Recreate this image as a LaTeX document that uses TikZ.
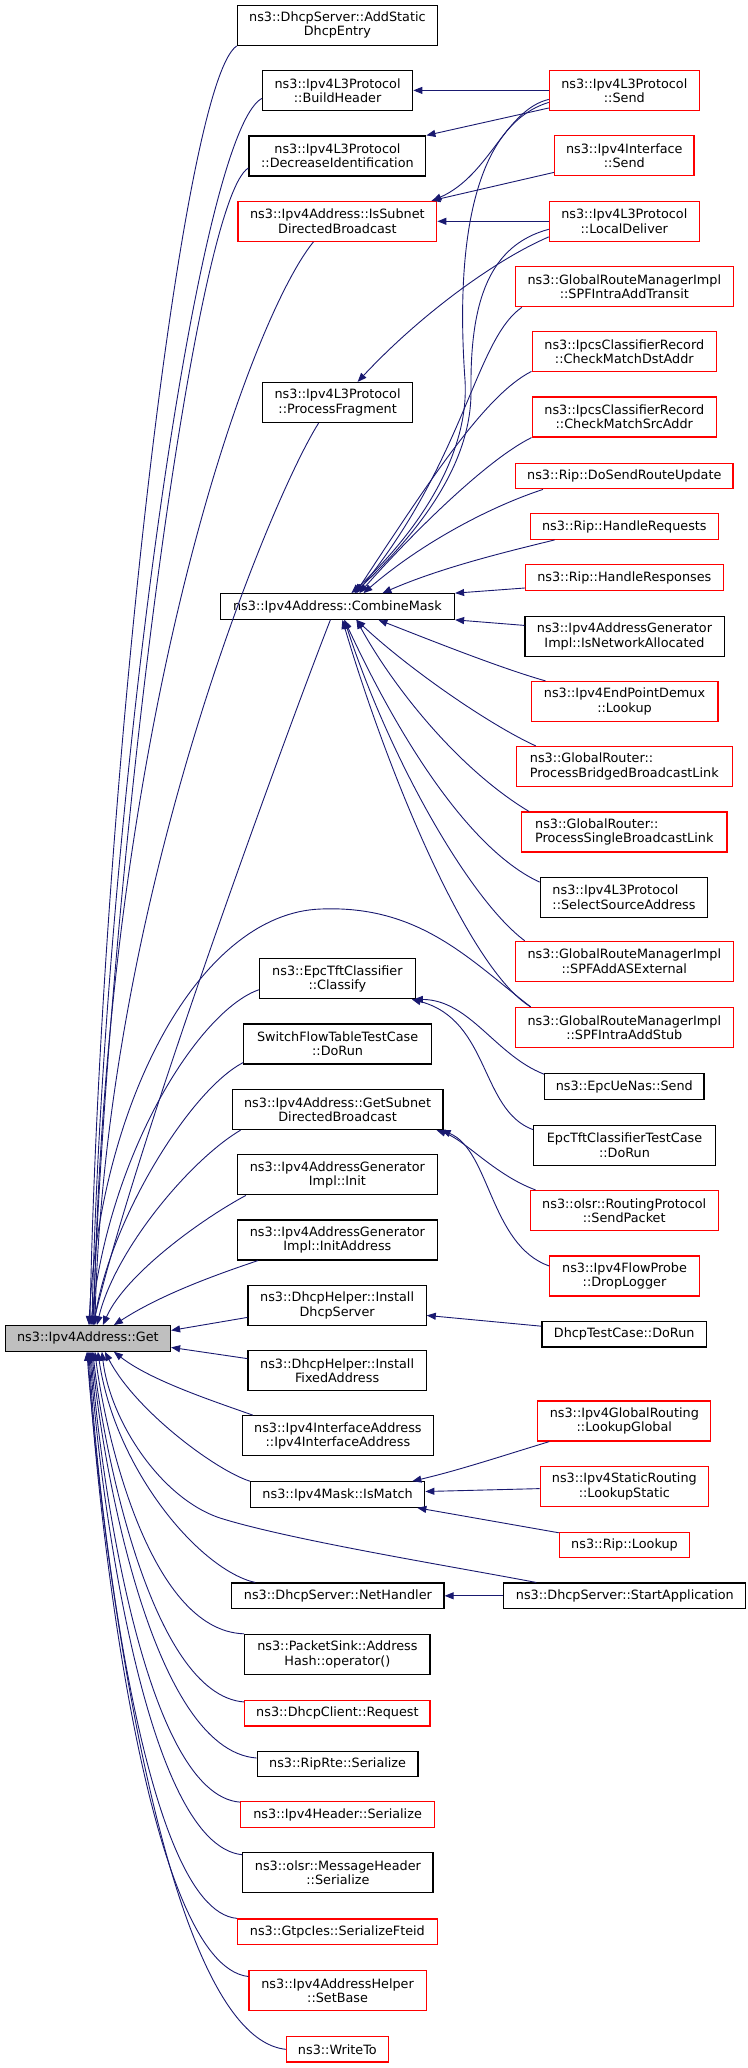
\documentclass[tikz,border=0pt]{standalone}
\usepackage{fontspec}
\setmainfont{DejaVu Sans}
\usetikzlibrary{arrows.meta,calc}
\definecolor{edgeblue}{RGB}{25,25,112}
\definecolor{getgray}{RGB}{191,191,191}
\begin{document}
\begin{tikzpicture}[x=1pt,y=-1pt,
  box/.style={draw=black, line width=1.2pt, inner xsep=2pt, inner ysep=0pt,
    font=\fontsize{12.8}{14.3}\selectfont, align=center, text=black},
  redbox/.style={box, draw=red},
  one/.style={minimum height=25.5pt},
  two/.style={minimum height=40pt},
  e/.style={draw=edgeblue, line width=0.9pt, -{Triangle[length=9pt,width=7pt]}},
]
\useasboundingbox (0,0) rectangle (747,2068);

% ---- middle column
\node[box,two,minimum width=200pt] (addstatic) at (337.4,25.3) {ns3::DhcpServer::AddStatic\\DhcpEntry};
\node[box,two,minimum width=150.3pt] (buildheader) at (337.6,90.4) {ns3::Ipv4L3Protocol\\::BuildHeader};
\node[box,two,minimum width=176.8pt] (decrease) at (337.4,156) {ns3::Ipv4L3Protocol\\::DecreaseIdentification};
\node[redbox,two,minimum width=198.8pt] (issubnet) at (337.4,221.3) {ns3::Ipv4Address::IsSubnet\\DirectedBroadcast};
\node[box,two,minimum width=150.3pt] (procfrag) at (337.6,402.5) {ns3::Ipv4L3Protocol\\::ProcessFragment};
\node[box,one,minimum width=234.2pt] (combine) at (337.4,606.5) {ns3::Ipv4Address::CombineMask};
\node[box,two,minimum width=155.6pt] (classify) at (337.4,978.7) {ns3::EpcTftClassifier\\::Classify};
\node[box,two,minimum width=187.7pt] (switchflow) at (337.6,1044) {SwitchFlowTableTestCase\\::DoRun};
\node[box,two,minimum width=210.7pt] (getsubnet) at (337.6,1109.5) {ns3::Ipv4Address::GetSubnet\\DirectedBroadcast};
\node[box,two,minimum width=199.8pt] (geninit) at (337.4,1174.8) {ns3::Ipv4AddressGenerator\\Impl::Init};
\node[box,two,minimum width=199.8pt] (geninitaddr) at (337.4,1240) {ns3::Ipv4AddressGenerator\\Impl::InitAddress};
\node[box,two,minimum width=178.2pt] (installserver) at (337.1,1305.4) {ns3::DhcpHelper::Install\\DhcpServer};
\node[box,two,minimum width=178.2pt] (installfixed) at (337.1,1370.6) {ns3::DhcpHelper::Install\\FixedAddress};
\node[box,two,minimum width=191.1pt] (ifaddr) at (337.9,1435.7) {ns3::Ipv4InterfaceAddress\\::Ipv4InterfaceAddress};
\node[box,one,minimum width=174.3pt] (ismatch) at (337.6,1494.5) {ns3::Ipv4Mask::IsMatch};
\node[box,one,minimum width=212.2pt] (nethandler) at (337.9,1595.8) {ns3::DhcpServer::NetHandler};
\node[box,two,minimum width=185.3pt] (packetsink) at (337.4,1654.4) {ns3::PacketSink::Address\\Hash::operator()};
\node[redbox,one,minimum width=185.3pt] (dhcpreq) at (337.4,1713.3) {ns3::DhcpClient::Request};
\node[box,one,minimum width=160.9pt] (riprte) at (337.6,1764) {ns3::RipRte::Serialize};
\node[redbox,one,minimum width=193.5pt] (ipv4hdr) at (337.6,1814.5) {ns3::Ipv4Header::Serialize};
\node[box,two,minimum width=190.1pt] (olsrmsg) at (337.9,1872.7) {ns3::olsr::MessageHeader\\::Serialize};
\node[redbox,one,minimum width=199.7pt] (gtpc) at (337.4,1931.7) {ns3::GtpcIes::SerializeFteid};
\node[redbox,two,minimum width=177.2pt] (setbase) at (337.6,1990.5) {ns3::Ipv4AddressHelper\\::SetBase};
\node[redbox,one,minimum width=102pt] (writeto) at (337.4,2049.3) {ns3::WriteTo};

% ---- root
\node[box,one,minimum width=165.2pt,fill=getgray] (get) at (87.9,1338.4) {ns3::Ipv4Address::Get};

% ---- right column
\node[redbox,two,minimum width=149.9pt] (send) at (624.3,90.4) {ns3::Ipv4L3Protocol\\::Send};
\node[redbox,two,minimum width=139.4pt] (ifsend) at (624.3,155.8) {ns3::Ipv4Interface\\::Send};
\node[redbox,two,minimum width=149.9pt] (localdeliver) at (624.3,221.3) {ns3::Ipv4L3Protocol\\::LocalDeliver};
\node[redbox,two,minimum width=217.9pt] (transit) at (624.3,286.8) {ns3::GlobalRouteManagerImpl\\::SPFIntraAddTransit};
\node[redbox,two,minimum width=184.4pt] (dstaddr) at (624.3,351.8) {ns3::IpcsClassifierRecord\\::CheckMatchDstAddr};
\node[redbox,two,minimum width=184.4pt] (srcaddr) at (624.3,417) {ns3::IpcsClassifierRecord\\::CheckMatchSrcAddr};
\node[redbox,one,minimum width=217.5pt] (dosend) at (624.3,476.1) {ns3::Rip::DoSendRouteUpdate};
\node[redbox,one,minimum width=188.2pt] (handlereq) at (624.3,526.6) {ns3::Rip::HandleRequests};
\node[redbox,one,minimum width=197.8pt] (handleresp) at (624.3,577.5) {ns3::Rip::HandleResponses};
\node[box,two,minimum width=199.2pt] (isnetalloc) at (624.5,636.4) {ns3::Ipv4AddressGenerator\\Impl::IsNetworkAllocated};
\node[redbox,two,minimum width=186.8pt] (epdemux) at (624.5,701.5) {ns3::Ipv4EndPointDemux\\::Lookup};
\node[redbox,two,minimum width=216pt,align=left] (bridged) at (624.3,766.5) {ns3::GlobalRouter::\\ProcessBridgedBroadcastLink};
\node[redbox,two,minimum width=205.5pt,align=left] (single) at (624.3,832) {ns3::GlobalRouter::\\ProcessSingleBroadcastLink};
\node[box,two,minimum width=167.6pt,align=left] (selectsrc) at (624,897.1) {ns3::Ipv4L3Protocol\\::SelectSourceAddress};
\node[redbox,two,minimum width=218pt] (asext) at (624.3,961.3) {ns3::GlobalRouteManagerImpl\\::SPFAddASExternal};
\node[redbox,two,minimum width=218pt] (intrastub) at (624.3,1027.5) {ns3::GlobalRouteManagerImpl\\::SPFIntraAddStub};
\node[box,one,minimum width=159.5pt] (uenas) at (624.3,1086.5) {ns3::EpcUeNas::Send};
\node[box,two,minimum width=182pt] (tftdorun) at (624.5,1145.2) {EpcTftClassifierTestCase\\::DoRun};
\node[redbox,two,minimum width=188.2pt] (sendpacket) at (624.2,1210.5) {ns3::olsr::RoutingProtocol\\::SendPacket};
\node[redbox,two,minimum width=149.4pt] (droplogger) at (624.5,1276) {ns3::Ipv4FlowProbe\\::DropLogger};
\node[box,one,minimum width=164.3pt] (dhcptest) at (624.2,1334.2) {DhcpTestCase::DoRun};
\node[redbox,two,minimum width=172.9pt] (lookupglobal) at (624.3,1421) {ns3::Ipv4GlobalRouting\\::LookupGlobal};
\node[redbox,two,minimum width=168.1pt] (lookupstatic) at (624.3,1486.6) {ns3::Ipv4StaticRouting\\::LookupStatic};
\node[redbox,one,minimum width=130.3pt] (riplookup) at (624.5,1545.1) {ns3::Rip::Lookup};
\node[box,one,minimum width=241.9pt] (startapp) at (624.8,1595.8) {ns3::DhcpServer::StartApplication};

% ---- edges into Get (top)
\draw[e] (addstatic.south west) .. controls (180,83) and (100,811) .. ($(get.north)+(2,0)$);
\draw[e] ($(buildheader.west)+(0,8)$) .. controls (195,135) and (103,832) .. ($(get.north)+(4,0)$);
\draw[e] ($(decrease.west)+(0,12)$) .. controls (195,200) and (110,860) .. ($(get.north)+(5,0)$);
\draw[e] ($(issubnet.south)+(-24,0)$) .. controls (250,320) and (105,720) .. ($(get.north)+(6,0)$);
\draw[e] ($(procfrag.south)+(-19,0)$) .. controls (270,500) and (105,900) .. ($(get.north)+(7,0)$);
\draw[e] ($(combine.south)+(-7,0)$) .. controls (295,710) and (140,1130) .. ($(get.north)+(5,0)$);
\draw[e] ($(intrastub.north west)+(16,0)$) .. controls (470,960) and (420,905) .. (321,909)
   .. controls (200,913) and (100,1100) .. ($(get.north)+(1,0)$);
\draw[e] ($(classify.west)+(0,11)$) .. controls (200,1010) and (110,1150) .. ($(get.north)+(3,0)$);
\draw[e] ($(switchflow.south west)+(0,-2)$) .. controls (190,1090) and (110,1220) .. ($(get.north)+(6,0)$);
\draw[e] ($(getsubnet.south west)+(9,0)$) .. controls (190,1160) and (115,1250) .. ($(get.north)+(9,0)$);
\draw[e] ($(geninit.south west)+(9,0)$) .. controls (200,1220) and (125,1275) .. ($(get.north)+(15,0)$);
\draw[e] ($(geninitaddr.south west)+(21,0)$) .. controls (215,1275) and (160,1295) .. ($(get.north)+(26,0)$);
\draw[e] ($(installserver.west)+(0,12)$) -- ($(get.east)+(0,-8)$);
\draw[e] ($(installfixed.west)+(0,-12)$) -- ($(get.east)+(0,9)$);

% ---- edges into Get (bottom)
\draw[e] ($(ifaddr.north west)+(11,0)$) .. controls (210,1400) and (150,1380) .. ($(get.south)+(26,0)$);
\draw[e] (ismatch.north west) .. controls (215,1470) and (135,1410) .. ($(get.south)+(17,0)$);
\draw[e] ($(startapp.north west)+(33,0)$) .. controls (450,1566) and (290,1540) .. (220,1518)
   .. controls (160,1498) and (110,1420) .. ($(get.south)+(14,0)$);
\draw[e] ($(nethandler.north west)+(24,0)$) .. controls (200,1570) and (115,1470) .. ($(get.south)+(10,0)$);
\draw[e] (packetsink.north west) .. controls (147,1631) and (104,1425) .. ($(get.south)+(7,0)$);
\draw[e] ($(dhcpreq.north west)+(0,2)$) .. controls (150,1695) and (102,1440) .. ($(get.south)+(5,0)$);
\draw[e] ($(riprte.west)+(0,-6)$) .. controls (150,1750) and (101,1455) .. ($(get.south)+(4,0)$);
\draw[e] ($(ipv4hdr.north west)+(0,1)$) .. controls (143,1795) and (99,1465) .. ($(get.south)+(3,0)$);
\draw[e] ($(olsrmsg.west)+(0,-18)$) .. controls (143,1845) and (98,1478) .. ($(get.south)+(2,0)$);
\draw[e] (gtpc.north west) .. controls (141,1910) and (97,1495) .. ($(get.south)+(1,0)$);
\draw[e] ($(setbase.west)+(0,-14)$) .. controls (145,1965) and (97,1510) .. (get.south);
\draw[e] (writeto.west) .. controls (159,2036) and (100,1526) .. ($(get.south)+(-1,0)$);

% ---- right -> middle (upper part)
\draw[e] (send.west) -- (buildheader.east);
\draw[e] ($(send.south west)+(0,-3)$) -- (decrease.north east);
\draw[e] ($(send.west)+(0,9)$) .. controls (505,110) and (490,175) .. ($(issubnet.north east)+(-5,0)$);
\draw[e] ($(ifsend.south west)+(0,-4)$) -- ($(issubnet.north east)+(-6,0)$);
\draw[e] (localdeliver.west) -- (issubnet.east);
\draw[e] ($(localdeliver.south west)+(0,-5)$) .. controls (495,260) and (420,315) .. ($(procfrag.north)+(20,0)$);

% ---- into CombineMask
\draw[e] ($(send.west)+(0,12)$) .. controls (475,125) and (455,240) .. (465,380)
   .. controls (470,460) and (410,540) .. ($(combine.north)+(14,0)$);
\draw[e] ($(localdeliver.west)+(0,8)$) .. controls (490,245) and (470,300) .. (471,390)
   .. controls (472,470) and (410,540) .. ($(combine.north)+(17,0)$);
\draw[e] ($(transit.south west)+(7,0)$) .. controls (475,340) and (465,460) .. ($(combine.north)+(19,0)$);
\draw[e] ($(dstaddr.south west)+(0,-1)$) .. controls (485,395) and (430,480) .. ($(combine.north)+(18,0)$);
\draw[e] (srcaddr.south west) .. controls (490,458) and (420,525) .. ($(combine.north)+(22,0)$);
\draw[e] ($(dosend.south west)+(28,0)$) .. controls (495,505) and (425,540) .. ($(combine.north)+(26,0)$);
\draw[e] ($(handlereq.south west)+(25,0)$) .. controls (505,552) and (440,568) .. ($(combine.north)+(45,0)$);
\draw[e] ($(handleresp.west)+(0,10.5)$) -- (combine.north east);
\draw[e] ($(isnetalloc.west)+(0,-11)$) -- (combine.south east);
\draw[e] ($(epdemux.north west)+(15,0)$) .. controls (500,668) and (430,640) .. ($(combine.south)+(41,0)$);
\draw[e] ($(bridged.north west)+(20,0)$) .. controls (490,725) and (410,670) .. ($(combine.south)+(19,0)$);
\draw[e] ($(single.north west)+(8,0)$) .. controls (460,770) and (395,690) .. ($(combine.south)+(19,0)$);
\draw[e] ($(selectsrc.west)+(0,-15)$) .. controls (470,850) and (400,740) .. ($(combine.south)+(7,0)$);
\draw[e] ($(asext.north west)+(10,0)$) .. controls (470,900) and (390,760) .. ($(combine.south)+(7,0)$);
\draw[e] ($(intrastub.north west)+(16,0)$) .. controls (470,970) and (390,780) .. ($(combine.south)+(5,0)$);

% ---- right -> middle (lower part)
\draw[e] ($(uenas.north west)+(0,1)$) .. controls (495,1055) and (470,1000) .. ($(classify.south east)+(-2,0)$);
\draw[e] ($(tftdorun.north west)+(0,5)$) .. controls (480,1110) and (490,1020) .. ($(classify.south east)+(-4,0)$);
\draw[e] ($(sendpacket.north west)+(6,0)$) .. controls (495,1175) and (465,1140) .. ($(getsubnet.south east)+(-7,0)$);
\draw[e] ($(droplogger.west)+(0,-10)$) .. controls (490,1245) and (490,1150) .. ($(getsubnet.south east)+(-2,0)$);
\draw[e] ($(dhcptest.west)+(0,-8)$) -- ($(installserver.east)+(0,10)$);
\draw[e] ($(lookupglobal.south west)+(12,0)$) .. controls (505,1455) and (460,1470) .. ($(ismatch.north east)+(-13,0)$);
\draw[e] ($(lookupstatic.west)+(0,2)$) -- ($(ismatch.east)+(0,-3)$);
\draw[e] ($(riplookup.north west)+(0,1)$) -- ($(ismatch.south east)+(-8,0)$);
\draw[e] (startapp.west) -- (nethandler.east);
\end{tikzpicture}
\end{document}
